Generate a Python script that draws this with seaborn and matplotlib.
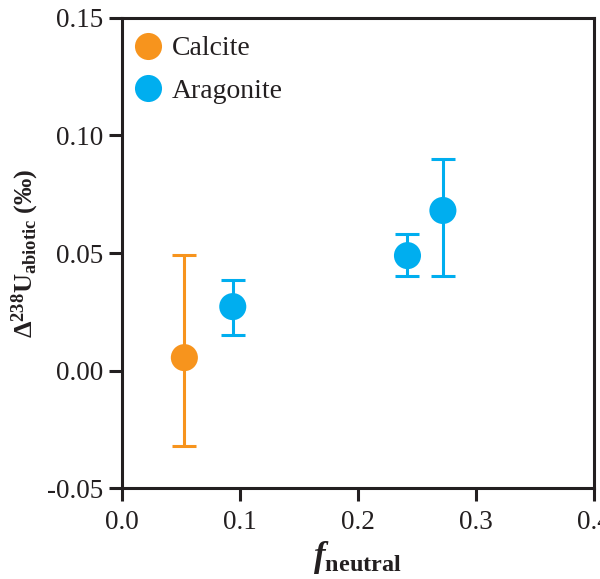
import matplotlib
matplotlib.use("Agg")
import matplotlib.pyplot as plt
import seaborn as sns
import pandas as pd

# Measured U isotope offsets versus neutral-species fraction
minerals = ["Calcite", "Aragonite", "Aragonite", "Aragonite"]
f_neutral = [0.053, 0.094, 0.242, 0.272]
delta_u = [0.0055, 0.0272, 0.0489, 0.0681]
err_low = [-0.0323, 0.0153, 0.0404, 0.0404]
err_high = [0.0490, 0.0387, 0.0579, 0.0898]

palette = {"Calcite": "#F7941D", "Aragonite": "#00AEEF"}

df = pd.DataFrame({"mineral": minerals, "f": f_neutral, "d": delta_u,
                   "lo": err_low, "hi": err_high})

sns.set_style("ticks")
plt.rcParams["font.family"] = ["Liberation Serif", "DejaVu Serif"]
plt.rcParams["mathtext.fontset"] = "custom"
plt.rcParams["mathtext.rm"] = "Liberation Serif"
plt.rcParams["mathtext.bf"] = "Liberation Serif:bold"
plt.rcParams["mathtext.it"] = "Liberation Serif:italic"
plt.rcParams["mathtext.bfit"] = "Liberation Serif:italic:bold"

ink = "#231F20"

fig = plt.figure(figsize=(6.0, 5.79), dpi=100)
ax = fig.add_axes([0.203, 0.157, 0.787, 0.812])

for _, r in df.iterrows():
    ax.errorbar(r["f"], r["d"],
                yerr=[[r["d"] - r["lo"]], [r["hi"] - r["d"]]],
                fmt="none", ecolor=palette[r["mineral"]], elinewidth=2.2,
                capsize=8.5, capthick=2.2, zorder=2)

sns.scatterplot(data=df, x="f", y="d", hue="mineral", palette=palette,
                s=380, edgecolor="none", ax=ax, zorder=3)

ax.set_xlim(0.0, 0.4)
ax.set_ylim(-0.05, 0.15)
ax.set_xticks([0.0, 0.1, 0.2, 0.3, 0.4])
ax.set_xticklabels(["0.0", "0.1", "0.2", "0.3", "0.4"])
ax.set_yticks([-0.05, 0.0, 0.05, 0.10, 0.15])
ax.set_yticklabels(["-0.05", "0.00", "0.05", "0.10", "0.15"])

for side in ["left", "bottom", "top", "right"]:
    ax.spines[side].set_linewidth(2.2)
    ax.spines[side].set_color(ink)
ax.tick_params(axis="both", direction="out", length=9.5, width=2.2,
               color=ink, labelsize=19.5, labelcolor=ink)
ax.tick_params(axis="y", pad=4)
ax.tick_params(axis="x", pad=6)

ax.set_xlabel(r"$\mathbfit{f}_{\mathbf{neutral}}$", fontsize=25,
              color=ink, labelpad=3)
ax.set_ylabel(r"$\mathbf{\Delta^{238}U_{abiotic}}$ $\mathbf{(‰)}$", fontsize=19,
              color=ink, labelpad=4)

leg = ax.legend(loc="upper left", bbox_to_anchor=(-0.012, 1.0),
                frameon=False, fontsize=20, title=None,
                handletextpad=0.35, labelspacing=0.6, borderaxespad=0.25,
                handlelength=1.0, labelcolor=ink)

fig.savefig("out.png", dpi=100)
